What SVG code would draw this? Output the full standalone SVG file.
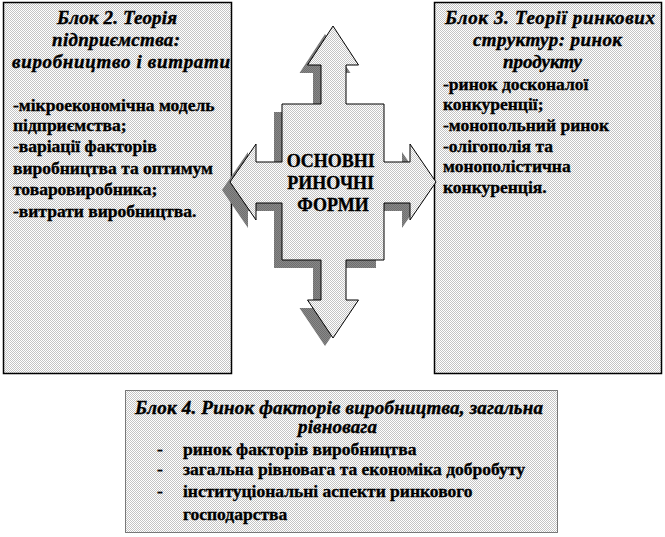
<svg xmlns="http://www.w3.org/2000/svg" width="665" height="537" viewBox="0 0 665 537">
<defs>
  <pattern id="dither" width="2" height="2" patternUnits="userSpaceOnUse">
    <rect width="2" height="2" fill="#ffffff"/>
    <rect x="0" y="0" width="1" height="1" fill="#c4c4c4"/>
    <rect x="1" y="1" width="1" height="1" fill="#c4c4c4"/>
  </pattern>
  <pattern id="darkdither" width="2" height="2" patternUnits="userSpaceOnUse">
    <rect width="2" height="2" fill="#8a8a8a"/>
    <rect x="0" y="0" width="1" height="1" fill="#6e6e6e"/>
    <rect x="1" y="1" width="1" height="1" fill="#6e6e6e"/>
  </pattern>
</defs>
<style>
  .box { fill: url(#dither); stroke: #000; stroke-width: 1.5; }
  .dotbox { fill: url(#dither); stroke: #000; stroke-width: 1; stroke-dasharray: 1 1; }
  .t { font-family: "Liberation Serif", "Times New Roman", serif; font-weight: bold; fill: #000; stroke: #000; stroke-width: 0.35; }
  .ti { font-family: "Liberation Serif", "Times New Roman", serif; font-weight: bold; font-style: italic; font-size: 19px; fill: #000; stroke: #000; stroke-width: 0.4; }
  .cross { fill: url(#dither); stroke: #000; stroke-width: 1; }
  .shadow { fill: url(#darkdither); stroke: none; }
</style>
<rect width="665" height="537" fill="#ffffff"/>

<g id="block2">
  <rect class="box" x="3.5" y="2.5" width="228" height="371"/>
  <text class="ti" x="57" y="24" textLength="120">Блок 2. Теорія</text>
  <text class="ti" x="52" y="46" textLength="128">підприємства:</text>
  <text class="ti" x="12" y="68" textLength="218">виробництво і витрати</text>
  <text class="t" font-size="17.5">
    <tspan x="13" y="111">-мікроекономічна модель</tspan>
    <tspan x="13" y="131">підприємства;</tspan>
    <tspan x="13" y="152">-варіації факторів</tspan>
    <tspan x="13" y="174">виробництва та оптимум</tspan>
    <tspan x="13" y="195">товаровиробника;</tspan>
    <tspan x="13" y="217">-витрати виробництва.</tspan>
  </text>
</g>

<g id="block3">
  <rect class="box" x="434.5" y="2.5" width="227" height="371"/>
  <text class="ti" x="445" y="24" textLength="210">Блок 3. Теорії ринкових</text>
  <text class="ti" x="473" y="46" textLength="149">структур: ринок</text>
  <text class="ti" x="503" y="68" textLength="79">продукту</text>
  <text class="t" font-size="17.5">
    <tspan x="443" y="90">-ринок досконалої</tspan>
    <tspan x="443" y="110">конкуренції;</tspan>
    <tspan x="443" y="131">-монопольний ринок</tspan>
    <tspan x="443" y="152">-олігополія та</tspan>
    <tspan x="443" y="172">монополістична</tspan>
    <tspan x="443" y="193">конкуренція.</tspan>
  </text>
</g>

<g id="center">
  <polygon class="shadow" transform="translate(-8,8)" points="333,26 358.5,65 346,65 346,104 384,104 384,162 410,162 410,144 436,182 410,220 410,203 384,203 384,260 346,260 346,300 358.5,300 333,338 307.5,300 321,300 321,260 282,260 282,203 256,203 256,220 230,182 256,144 256,162 282,162 282,104 321,104 321,65 307.5,65"/>
  <polygon class="cross" points="333,26 358.5,65 346,65 346,104 384,104 384,162 410,162 410,144 436,182 410,220 410,203 384,203 384,260 346,260 346,300 358.5,300 333,338 307.5,300 321,300 321,260 282,260 282,203 256,203 256,220 230,182 256,144 256,162 282,162 282,104 321,104 321,65 307.5,65"/>
  <text class="t" font-size="18" text-anchor="middle">
    <tspan x="333" y="167">ОСНОВНІ</tspan>
    <tspan x="333" y="189">РИНОЧНІ</tspan>
    <tspan x="333" y="211">ФОРМИ</tspan>
  </text>
</g>

<g id="block4">
  <rect class="dotbox" x="125.5" y="390.5" width="432" height="142"/>
  <text class="ti" x="135" y="414" textLength="408">Блок 4. Ринок факторів виробництва, загальна</text>
  <text class="ti" x="298" y="433" textLength="79">рівновага</text>
  <text class="t" font-size="17.5">
    <tspan x="157" y="455">-</tspan>
    <tspan x="157" y="475">-</tspan>
    <tspan x="157" y="497">-</tspan>
  </text>
  <text class="t" font-size="17.5">
    <tspan x="183" y="455">ринок факторів виробництва</tspan>
    <tspan x="183" y="475">загальна рівновага та економіка добробуту</tspan>
    <tspan x="183" y="497">інституціональні  аспекти ринкового</tspan>
    <tspan x="183" y="520">господарства</tspan>
  </text>
</g>
</svg>
